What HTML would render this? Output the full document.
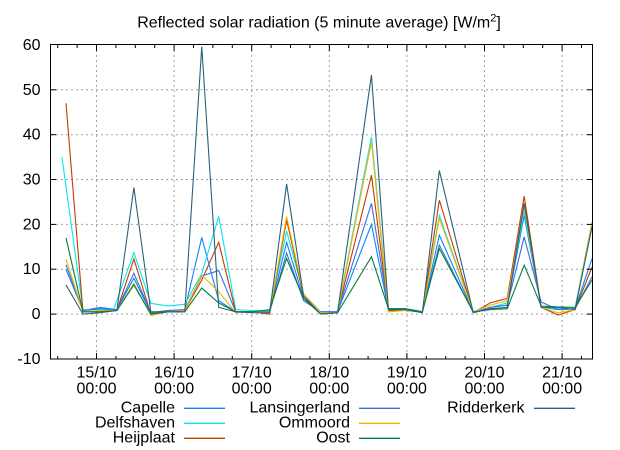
<!DOCTYPE html>
<html>
<head>
<meta charset="utf-8">
<style>
  html, body { margin:0; padding:0; background:#fff; }
  svg { display:block; font-family:"Liberation Sans", Arial, sans-serif; }
  .lbl { font-size:16px; fill:#000; }
  .grid { stroke:#a0a0a0; stroke-width:1; stroke-dasharray:2,3; fill:none; }
  .tick { stroke:#000; stroke-width:1; }
  .s { fill:none; stroke-width:1.1; vector-effect:non-scaling-stroke; stroke-linejoin:miter; }
</style>
</head>
<body>
<svg width="620" height="450" viewBox="0 0 620 450" xmlns="http://www.w3.org/2000/svg">
  <rect x="0" y="0" width="620" height="450" fill="#fff"/>
  <defs>
    <clipPath id="pc"><rect x="50" y="44" width="543" height="315"/></clipPath>
  </defs>

  <!-- title -->
  <text class="lbl" x="319" y="27.5" text-anchor="middle">Reflected solar radiation (5 minute average) [W/m<tspan font-size="11" dy="-6">2</tspan><tspan dy="6">]</tspan></text>

  <!-- grid -->
  <g class="grid">
    <line x1="51" y1="314.1" x2="592" y2="314.1"/>
    <line x1="51" y1="269.2" x2="592" y2="269.2"/>
    <line x1="51" y1="224.4" x2="592" y2="224.4"/>
    <line x1="51" y1="179.5" x2="592" y2="179.5"/>
    <line x1="51" y1="134.7" x2="592" y2="134.7"/>
    <line x1="51" y1="89.8" x2="592" y2="89.8"/>
    <line x1="96.5" y1="45" x2="96.5" y2="359"/>
    <line x1="174.1" y1="45" x2="174.1" y2="359"/>
    <line x1="251.7" y1="45" x2="251.7" y2="359"/>
    <line x1="329.3" y1="45" x2="329.3" y2="359"/>
    <line x1="406.9" y1="45" x2="406.9" y2="359"/>
    <line x1="484.5" y1="45" x2="484.5" y2="359"/>
    <line x1="562.1" y1="45" x2="562.1" y2="359"/>
  </g>

  <!-- data series -->
  <g clip-path="url(#pc)">
    <g transform="translate(66,314.1) scale(16.97,-4.486)">
      <polyline class="s" stroke="#0a84ff" points="0,11 1,0.8 2,1.5 3,1 4,8 5,0.3 6,0.8 7,1 8,17.1 9,3 10,0.5 11,0.5 12,0.5 13,16 14,3.5 15,0.5 16,0.5 18,20 19,1 20,0.8 21,0.5 22,17.6 24,0.5 25,1.5 26,2 27,22 28,1.5 29,1 30,1.2 31,12.4"/>
      <polyline class="s" stroke="#08e6f0" points="-0.24,35 1,1 2,1 2.8,1 4,13.7 5,2.4 6,1.8 7,2.2 8,9 9,21.8 10,1 11,0.8 12,0.8 13,18.5 14,4.5 15,0.5 16,0.5 18,39.5 19,1.2 20,1.2 21,0.6 22,22 24,0.5 25,1.5 26,2.5 27,23 28,1.5 29,1.2 30,1.5 31,20.5"/>
      <polyline class="s" stroke="#c43c00" points="0,47 1,0.5 2,0.5 3,0.8 4,12.3 5,0 6,0.5 7,0.8 8,7.6 9,16 10,0.5 11,0.5 12,0 13,21 14,4 15,0.3 16,0.4 18,31 19,0.8 20,0.8 21,0.5 22,25.4 24,0.3 25,2.5 26,3.5 27,26.3 28,1.5 29,-0.2 30,1 31,10.5"/>
      <polyline class="s" stroke="#3b6ee0" points="0,10 1,0.8 2,1.2 3,1 4,9.1 5,0.3 6,0.8 7,1 8,8.5 9,9.7 10,0.5 11,0.5 12,0.5 13,13.6 14,3 15,0.5 16,0.5 18,24.7 19,1 20,1 21,0.5 22,15.4 24,0.3 25,1.5 26,2 27,17.2 28,2.7 29,1 30,1.2 31,8.3"/>
      <polyline class="s" stroke="#f5b400" points="0,12.3 1,0.5 2,0.8 3,0.8 4,6.9 5,-0.3 6,0.5 7,0.8 8,8.7 9,5 10,0.3 11,0.5 12,0.3 13,21.8 14,4.5 15,0.3 16,0.3 18,38.4 19,0.5 20,0.8 21,0.5 22,21.3 24,0.5 25,2 26,3 27,24 28,1.5 29,0.3 30,1 31,20.5"/>
      <polyline class="s" stroke="#00803c" points="0,17 1,0.5 2,0.5 3,0.8 4,6.5 5,0 6,0.5 7,0.5 8,5.8 9,2.5 10,0.5 11,0.5 12,1 13,12.4 14,3.5 15,0 16,0.3 18,12.8 19,1.2 20,1.2 21,0.5 22,14.6 24,0.5 25,1 26,1.2 27,10.9 28,1.8 29,1.6 30,1.5 31,7.6"/>
      <polyline class="s" stroke="#2b5f7c" points="0,6.5 1,0 2,0.3 3,0.8 4,28.2 5,0.5 6,0.5 7,0.5 8,59.6 9,1.5 10,0.5 11,0.3 12,0.3 13,29 14,4 15,0 16,0.3 18,53.3 19,1 20,1 21,0.3 22,32 24,0.3 25,1.2 26,1.5 27,24.7 28,1.5 29,1.5 30,1 31,19.5"/>
    </g>
  </g>

  <!-- ticks -->
  <g class="tick">
    <line x1="50" y1="314.1" x2="56" y2="314.1"/><line x1="587" y1="314.1" x2="593" y2="314.1"/>
    <line x1="50" y1="269.2" x2="56" y2="269.2"/><line x1="587" y1="269.2" x2="593" y2="269.2"/>
    <line x1="50" y1="224.4" x2="56" y2="224.4"/><line x1="587" y1="224.4" x2="593" y2="224.4"/>
    <line x1="50" y1="179.5" x2="56" y2="179.5"/><line x1="587" y1="179.5" x2="593" y2="179.5"/>
    <line x1="50" y1="134.7" x2="56" y2="134.7"/><line x1="587" y1="134.7" x2="593" y2="134.7"/>
    <line x1="50" y1="89.8" x2="56" y2="89.8"/><line x1="587" y1="89.8" x2="593" y2="89.8"/>
    <line x1="96.5" y1="359" x2="96.5" y2="353"/><line x1="96.5" y1="45" x2="96.5" y2="51"/>
    <line x1="174.1" y1="359" x2="174.1" y2="353"/><line x1="174.1" y1="45" x2="174.1" y2="51"/>
    <line x1="251.7" y1="359" x2="251.7" y2="353"/><line x1="251.7" y1="45" x2="251.7" y2="51"/>
    <line x1="329.3" y1="359" x2="329.3" y2="353"/><line x1="329.3" y1="45" x2="329.3" y2="51"/>
    <line x1="406.9" y1="359" x2="406.9" y2="353"/><line x1="406.9" y1="45" x2="406.9" y2="51"/>
    <line x1="484.5" y1="359" x2="484.5" y2="353"/><line x1="484.5" y1="45" x2="484.5" y2="51"/>
    <line x1="562.1" y1="359" x2="562.1" y2="353"/><line x1="562.1" y1="45" x2="562.1" y2="51"/>
    <line x1="57.7" y1="359" x2="57.7" y2="356"/><line x1="57.7" y1="45" x2="57.7" y2="48"/>
    <line x1="77.1" y1="359" x2="77.1" y2="356"/><line x1="77.1" y1="45" x2="77.1" y2="48"/>
    <line x1="115.9" y1="359" x2="115.9" y2="356"/><line x1="115.9" y1="45" x2="115.9" y2="48"/>
    <line x1="135.3" y1="359" x2="135.3" y2="356"/><line x1="135.3" y1="45" x2="135.3" y2="48"/>
    <line x1="154.7" y1="359" x2="154.7" y2="356"/><line x1="154.7" y1="45" x2="154.7" y2="48"/>
    <line x1="193.5" y1="359" x2="193.5" y2="356"/><line x1="193.5" y1="45" x2="193.5" y2="48"/>
    <line x1="212.9" y1="359" x2="212.9" y2="356"/><line x1="212.9" y1="45" x2="212.9" y2="48"/>
    <line x1="232.3" y1="359" x2="232.3" y2="356"/><line x1="232.3" y1="45" x2="232.3" y2="48"/>
    <line x1="271.1" y1="359" x2="271.1" y2="356"/><line x1="271.1" y1="45" x2="271.1" y2="48"/>
    <line x1="290.5" y1="359" x2="290.5" y2="356"/><line x1="290.5" y1="45" x2="290.5" y2="48"/>
    <line x1="309.9" y1="359" x2="309.9" y2="356"/><line x1="309.9" y1="45" x2="309.9" y2="48"/>
    <line x1="348.7" y1="359" x2="348.7" y2="356"/><line x1="348.7" y1="45" x2="348.7" y2="48"/>
    <line x1="368.1" y1="359" x2="368.1" y2="356"/><line x1="368.1" y1="45" x2="368.1" y2="48"/>
    <line x1="387.5" y1="359" x2="387.5" y2="356"/><line x1="387.5" y1="45" x2="387.5" y2="48"/>
    <line x1="426.3" y1="359" x2="426.3" y2="356"/><line x1="426.3" y1="45" x2="426.3" y2="48"/>
    <line x1="445.7" y1="359" x2="445.7" y2="356"/><line x1="445.7" y1="45" x2="445.7" y2="48"/>
    <line x1="465.1" y1="359" x2="465.1" y2="356"/><line x1="465.1" y1="45" x2="465.1" y2="48"/>
    <line x1="503.9" y1="359" x2="503.9" y2="356"/><line x1="503.9" y1="45" x2="503.9" y2="48"/>
    <line x1="523.3" y1="359" x2="523.3" y2="356"/><line x1="523.3" y1="45" x2="523.3" y2="48"/>
    <line x1="542.7" y1="359" x2="542.7" y2="356"/><line x1="542.7" y1="45" x2="542.7" y2="48"/>
    <line x1="581.5" y1="359" x2="581.5" y2="356"/><line x1="581.5" y1="45" x2="581.5" y2="48"/>
  </g>

  <!-- plot border -->
  <rect x="50.5" y="44.5" width="542" height="314.5" fill="none" stroke="#000" stroke-width="1"/>

  <!-- y labels -->
  <g class="lbl" text-anchor="end">
    <text x="40.5" y="50">60</text>
    <text x="40.5" y="94.8">50</text>
    <text x="40.5" y="139.7">40</text>
    <text x="40.5" y="184.5">30</text>
    <text x="40.5" y="229.4">20</text>
    <text x="40.5" y="274.2">10</text>
    <text x="40.5" y="319.1">0</text>
    <text x="40.5" y="364">-10</text>
  </g>

  <!-- x labels -->
  <g class="lbl" text-anchor="middle">
    <text x="96.5" y="377.5">15/10</text><text x="96.5" y="393.5">00:00</text>
    <text x="174.1" y="377.5">16/10</text><text x="174.1" y="393.5">00:00</text>
    <text x="251.7" y="377.5">17/10</text><text x="251.7" y="393.5">00:00</text>
    <text x="329.3" y="377.5">18/10</text><text x="329.3" y="393.5">00:00</text>
    <text x="406.9" y="377.5">19/10</text><text x="406.9" y="393.5">00:00</text>
    <text x="484.5" y="377.5">20/10</text><text x="484.5" y="393.5">00:00</text>
    <text x="562.1" y="377.5">21/10</text><text x="562.1" y="393.5">00:00</text>
  </g>

  <!-- legend -->
  <g class="lbl" text-anchor="end">
    <text x="175" y="412.5">Capelle</text>
    <text x="175" y="427.5">Delfshaven</text>
    <text x="175" y="442.5">Heijplaat</text>
    <text x="350" y="412.5">Lansingerland</text>
    <text x="350" y="427.5">Ommoord</text>
    <text x="350" y="442.5">Oost</text>
    <text x="524.5" y="412.5">Ridderkerk</text>
  </g>
  <g stroke-width="1.3">
    <line x1="184" y1="408.3" x2="225" y2="408.3" stroke="#0a84ff"/>
    <line x1="184" y1="423.3" x2="225" y2="423.3" stroke="#08e6f0"/>
    <line x1="184" y1="438.3" x2="225" y2="438.3" stroke="#c43c00"/>
    <line x1="359" y1="408.3" x2="400" y2="408.3" stroke="#3b6ee0"/>
    <line x1="359" y1="423.3" x2="400" y2="423.3" stroke="#f5b400"/>
    <line x1="359" y1="438.3" x2="400" y2="438.3" stroke="#00803c"/>
    <line x1="534" y1="408.3" x2="575" y2="408.3" stroke="#2b5f7c"/>
  </g>
</svg>
</body>
</html>
